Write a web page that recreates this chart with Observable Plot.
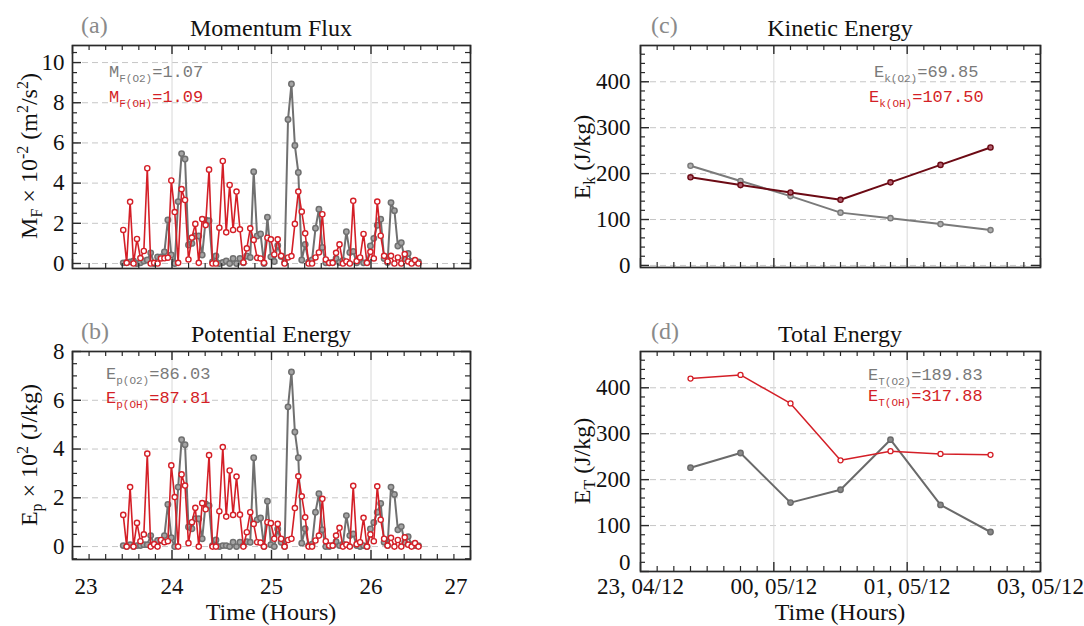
<!DOCTYPE html>
<html>
<head>
<meta charset="utf-8">
<script src="https://cdn.jsdelivr.net/npm/d3@7"></script>
<script src="https://cdn.jsdelivr.net/npm/@observablehq/plot@0.6"></script>
<style>
html, body { margin: 0; padding: 0; background: #ffffff; }
#chart { position: relative; width: 1084px; height: 626px; overflow: hidden; background: #fff; }
#chart > svg { position: absolute; left: 0; top: 0; }
</style>
</head>
<body>
<div id="chart"></div>
<script>
// ---------------- data ----------------
const sampleCount = 87;
const sampleStartHour = 23.51;   // first sample (hours)
const sampleStepHour = 0.0345;   // sampling cadence (hours)

const momentumFluxO2 = [0.03,0.05,0.08,0.12,0.0,0.03,0.12,0.17,0.53,0.0,0.33,0.33,0.58,2.17,0.42,0.0,3.08,5.47,5.2,0.92,1.0,1.37,1.37,0.42,2.17,2.13,0.08,0.37,0.0,0.05,0.12,0.0,0.25,0.0,0.25,0.03,0.37,0.3,4.57,1.37,1.47,0.0,2.3,0.33,0.1,0.9,0.35,0.05,7.17,8.93,5.87,4.53,0.17,0.95,0.08,0.17,1.75,2.7,0.8,0.03,0.03,0.05,0.25,0.05,0.15,1.58,0.55,0.6,0.03,0.2,0.03,0.05,0.87,1.25,1.9,2.2,0.25,0.05,3.03,2.63,0.87,1.03,0.25,0.5,0.1,0.08,0.08];
const momentumFluxOH = [1.67,0.03,3.07,0.0,1.22,0.27,0.62,4.74,0.0,0.03,0.0,0.25,0.26,0.29,4.13,2.56,0.03,3.7,3.16,0.2,1.29,1.97,0.03,2.21,1.91,4.67,0.0,0.0,1.78,5.1,1.55,3.91,1.67,3.58,1.7,0.05,0.75,1.75,1.17,0.28,0.25,0.03,1.28,1.2,0.45,1.2,0.38,0.0,0.3,0.37,1.97,3.58,2.58,1.5,0.0,0.0,0.3,0.55,2.45,0.2,0.03,0.03,0.53,0.95,0.0,0.1,0.0,3.12,0.12,0.3,1.47,0.03,0.58,0.25,3.08,1.38,0.38,0.1,0.38,0.0,0.3,0.0,0.47,0.1,0.0,0.17,0.0];
const potentialEnergyO2 = [0.04,0.0,0.08,0.0,0.04,0.04,0.08,0.08,0.45,0.1,0.25,0.25,0.45,1.73,0.36,0.0,2.44,4.38,4.18,0.8,0.73,1.14,1.14,0.32,1.75,1.68,0.04,0.27,0.0,0.04,0.04,0.0,0.18,0.0,0.18,0.04,0.2,0.18,3.64,1.1,1.17,0.0,1.86,0.08,0.0,0.72,0.18,0.0,5.73,7.16,4.7,3.64,0.14,0.73,0.05,0.1,1.41,2.17,0.69,0.0,0.0,0.04,0.2,0.04,0.1,1.27,0.45,0.52,0.04,0.0,0.04,0.0,0.72,0.99,1.41,1.77,0.18,0.04,2.44,2.14,0.69,0.82,0.18,0.41,0.08,0.04,0.04];
const potentialEnergyOH = [1.3,0.0,2.44,0.0,0.97,0.22,0.5,3.81,0.0,0.1,0.0,0.27,0.18,0.22,3.33,2.03,0.0,2.96,2.5,0.14,1.0,1.59,0.0,1.78,1.53,3.75,0.0,0.0,1.45,4.08,1.23,3.12,1.3,2.87,1.31,0.0,0.59,1.41,0.93,0.18,0.16,0.0,1.0,0.96,0.32,0.93,0.32,0.0,0.27,0.32,1.58,2.88,2.06,1.2,0.0,0.0,0.25,0.45,1.96,0.22,0.04,0.04,0.45,0.77,0.0,0.08,0.0,2.49,0.1,0.18,1.18,0.0,0.5,0.22,2.47,1.1,0.32,0.04,0.36,0.0,0.27,0.0,0.38,0.08,0.0,0.14,0.0];

const energySlot = [3, 6, 9, 12, 15, 18, 21];
const kineticO2 = [217, 184, 151, 115, 103, 90, 77];
const kineticOH = [192, 175, 159, 143, 181, 219, 257];
const totalO2 = [226, 258, 150, 178, 287, 145, 86];
const totalOH = [420, 428, 366, 242, 262, 256, 254];

const hourTicks = [23, 24, 25, 26, 27];
const energyTickSlots = [0, 8, 16, 24];
const energyTickLabels = ["23, 04/12", "00, 05/12", "01, 05/12", "03, 05/12"];
const fluxTicks = [0, 2, 4, 6, 8, 10];
const potentialTicks = [0, 2, 4, 6, 8];
const energyTicks = [0, 100, 200, 300, 400];

// ---------------- styles ----------------
const W = 1084, H = 626;
const ink = "#2a2a2a";
const grayC = "#707070";
const redC = "#d41f27";
const maroonC = "#6c0a14";
const serif = "Liberation Serif";
const mono = "Liberation Mono";

const hours = d3.range(sampleCount).map(i => sampleStartHour + i * sampleStepHour);
const hourRows = ys => ys.map((v, i) => ({x: hours[i], y: v}));
const slotRows = ys => ys.map((v, i) => ({x: energySlot[i], y: v}));

function minorRange(lo, hi, step, majors) {
  const out = [];
  for (let v = Math.ceil(lo / step - 1e-9) * step; v <= hi + 1e-9; v += step) {
    if (!majors.some(m => Math.abs(m - v) < 1e-6)) out.push(v);
  }
  return out;
}

function panel(o) {
  const fw = o.right - o.left, fh = o.bottom - o.top;
  const L = 9, S = 5;
  const xMinor = minorRange(o.xDomain[0], o.xDomain[1], o.xMinorStep, o.xMajor);
  const yMinor = minorRange(o.yDomain[0], o.yDomain[1], o.yMinorStep, o.yMajor);
  const id = d => d;
  const tickText = {fontSize: 23, fontFamily: serif, fill: "#111"};
  const marks = [
    Plot.ruleY(o.yMajor, {y: id, stroke: "#c6c6c6", strokeWidth: 1, strokeDasharray: "6,4"}),
    Plot.ruleX(o.xGrid, {x: id, stroke: "#d8d8d8", strokeWidth: 1}),
    ...o.dataMarks,
    Plot.tickX(o.xMajor, {x: id, insetTop: fh - L, stroke: ink, strokeWidth: 1.4}),
    Plot.tickX(o.xMajor, {x: id, insetBottom: fh - L, stroke: ink, strokeWidth: 1.4}),
    Plot.tickX(xMinor, {x: id, insetTop: fh - S, stroke: ink, strokeWidth: 1.2}),
    Plot.tickX(xMinor, {x: id, insetBottom: fh - S, stroke: ink, strokeWidth: 1.2}),
    Plot.tickY(o.yMajor, {y: id, insetRight: fw - L, stroke: ink, strokeWidth: 1.4}),
    Plot.tickY(o.yMajor, {y: id, insetLeft: fw - L, stroke: ink, strokeWidth: 1.4}),
    Plot.tickY(yMinor, {y: id, insetRight: fw - S, stroke: ink, strokeWidth: 1.2}),
    Plot.tickY(yMinor, {y: id, insetLeft: fw - S, stroke: ink, strokeWidth: 1.2}),
    Plot.frame({stroke: ink, strokeWidth: 1.7}),
    Plot.text(o.yLabelTicks, {y: id, text: d => String(d), frameAnchor: "left", dx: o.yLabelDx, textAnchor: "end", ...tickText}),
    ...(o.extraMarks || [])
  ];
  if (o.xLabels) {
    const idx = o.xMajor.map((d, i) => i);
    if (o.insetEdgeLabels) {
      const last = o.xMajor.length - 1;
      marks.push(Plot.text(idx.filter(i => i > 0 && i < last), {x: i => o.xMajor[i], text: i => o.xLabels[i], frameAnchor: "bottom", dy: o.xLabelDy, ...tickText}));
      marks.push(Plot.text([0], {x: i => o.xMajor[i], text: i => o.xLabels[i], frameAnchor: "bottom", dy: o.xLabelDy, dx: 2, textAnchor: "start", ...tickText}));
      marks.push(Plot.text([last], {x: i => o.xMajor[i], text: i => o.xLabels[i], frameAnchor: "bottom", dy: o.xLabelDy, dx: -3, textAnchor: "end", ...tickText}));
    } else {
      marks.push(Plot.text(idx, {x: i => o.xMajor[i], text: i => o.xLabels[i], frameAnchor: "bottom", dy: o.xLabelDy, ...tickText}));
    }
  }
  return Plot.plot({
    width: W, height: H,
    marginLeft: o.left, marginRight: W - o.right, marginTop: o.top, marginBottom: H - o.bottom,
    x: {domain: o.xDomain, axis: null},
    y: {domain: o.yDomain, axis: null},
    style: {background: "transparent", overflow: "visible", fontFamily: serif},
    marks
  });
}

function seriesMarks(rows, color, width, dotFill, r, dotWidth) {
  return [
    Plot.line(rows, {x: "x", y: "y", stroke: color, strokeWidth: width}),
    Plot.dot(rows, {x: "x", y: "y", r: r, stroke: color, strokeWidth: dotWidth, fill: dotFill})
  ];
}

const chart = document.getElementById("chart");
const hourMinor = 1 / 6;

// (a) Momentum flux
chart.append(panel({
  left: 72, right: 470, top: 45, bottom: 268,
  xDomain: [23, 27], yDomain: [-0.25, 10.85],
  xMajor: hourTicks, xMinorStep: hourMinor, xGrid: [24, 25, 26],
  yMajor: fluxTicks, yMinorStep: 0.5, yLabelTicks: fluxTicks, yLabelDx: -8,
  dataMarks: [
    ...seriesMarks(hourRows(momentumFluxO2), grayC, 2, "#a4a4a4", 2.7, 1.5),
    ...seriesMarks(hourRows(momentumFluxOH), redC, 1.6, "white", 2.6, 1.4)
  ]
}));

// (b) Potential energy
chart.append(panel({
  left: 72, right: 470, top: 351, bottom: 559,
  xDomain: [23, 27], yDomain: [-0.53, 8.0],
  xMajor: hourTicks, xMinorStep: hourMinor, xGrid: [24, 25, 26],
  yMajor: potentialTicks, yMinorStep: 0.5, yLabelTicks: potentialTicks, yLabelDx: -8,
  xLabels: hourTicks.map(String), xLabelDy: 34, insetEdgeLabels: true,
  dataMarks: [
    ...seriesMarks(hourRows(potentialEnergyO2), grayC, 2, "#a4a4a4", 2.7, 1.5),
    ...seriesMarks(hourRows(potentialEnergyOH), redC, 1.6, "white", 2.6, 1.4)
  ]
}));

// (c) Kinetic energy
chart.append(panel({
  left: 640, right: 1040, top: 45, bottom: 267,
  xDomain: [0, 24], yDomain: [-4.5, 479],
  xMajor: energyTickSlots, xMinorStep: 1, xGrid: [8, 16],
  yMajor: energyTicks, yMinorStep: 20, yLabelTicks: energyTicks, yLabelDx: -10,
  dataMarks: [
    ...seriesMarks(slotRows(kineticO2), "#7a7a7a", 2, "#b0b0b0", 2.6, 1.4),
    ...seriesMarks(slotRows(kineticOH), maroonC, 2, "#b06070", 2.6, 1.4)
  ]
}));

// (d) Total energy
chart.append(panel({
  left: 640, right: 1040, top: 351, bottom: 571,
  xDomain: [0, 24], yDomain: [0, 479],
  xMajor: energyTickSlots, xMinorStep: 1, xGrid: [8, 16],
  yMajor: energyTicks, yMinorStep: 20, yLabelTicks: energyTicks.filter(v => v > 0), yLabelDx: -10,
  xLabels: energyTickLabels, xLabelDy: 22,
  dataMarks: [
    ...seriesMarks(slotRows(totalO2), "#6a6a6a", 2, "#8a8a8a", 2.7, 1.4),
    ...seriesMarks(slotRows(totalOH), redC, 1.5, "white", 2.5, 1.3)
  ],
  extraMarks: [
    Plot.text([0], {y: d => d, text: d => String(d), frameAnchor: "left", dx: -10, dy: -9, textAnchor: "end", fontSize: 23, fontFamily: serif, fill: "#111"})
  ]
}));

// ---------------- text overlay ----------------
const over = d3.select("#chart").append("svg")
  .attr("width", W).attr("height", H)
  .style("position", "absolute").style("left", 0).style("top", 0);

function rich(parts, o) {
  const t = over.append("text")
    .attr("font-family", o.family).attr("font-size", o.size)
    .attr("fill", o.fill).attr("text-anchor", o.anchor || "start");
  if (o.rotate) t.attr("transform", `translate(${o.x},${o.y}) rotate(-90)`);
  else t.attr("x", o.x).attr("y", o.y);
  let shift = 0;
  parts.forEach(p => {
    const target = p.sub ? o.subShift : p.sup ? -o.supShift : 0;
    const s = t.append("tspan").attr("dy", target - shift).text(p.t);
    if (p.sub || p.sup) s.attr("font-size", o.small);
    shift = target;
  });
}

const titleStyle = {family: serif, size: 24, fill: "#111", anchor: "middle"};
rich([{t: "Momentum Flux"}], {...titleStyle, x: 271, y: 36});
rich([{t: "Potential Energy"}], {...titleStyle, x: 271, y: 342});
rich([{t: "Kinetic Energy"}], {...titleStyle, x: 840, y: 36});
rich([{t: "Total Energy"}], {...titleStyle, x: 840, y: 342});

const letterStyle = {family: serif, size: 24, fill: "#8a8a8a"};
rich([{t: "(a)"}], {...letterStyle, x: 81, y: 33});
rich([{t: "(b)"}], {...letterStyle, x: 81, y: 339});
rich([{t: "(c)"}], {...letterStyle, x: 651, y: 33});
rich([{t: "(d)"}], {...letterStyle, x: 651, y: 339});

const axisStyle = {family: serif, size: 24, fill: "#111", anchor: "middle", small: 16, subShift: 5, supShift: 9};
rich([{t: "Time (Hours)"}], {...axisStyle, x: 271, y: 620});
rich([{t: "Time (Hours)"}], {...axisStyle, x: 840, y: 620});
rich([{t: "M"}, {t: "F", sub: true}, {t: " × 10"}, {t: "-2", sup: true}, {t: " (m"}, {t: "2", sup: true}, {t: "/s"}, {t: "2", sup: true}, {t: ")"}],
  {...axisStyle, x: 37, y: 156, rotate: true});
rich([{t: "E"}, {t: "p", sub: true}, {t: " × 10"}, {t: "2", sup: true}, {t: " (J/kg)"}],
  {...axisStyle, x: 37, y: 455, rotate: true});
rich([{t: "E"}, {t: "k", sub: true}, {t: " (J/kg)"}], {...axisStyle, x: 590, y: 157, rotate: true});
rich([{t: "E"}, {t: "T", sub: true}, {t: " (J/kg)"}], {...axisStyle, x: 590, y: 461, rotate: true});

const annGray = {family: mono, size: 17, small: 11, subShift: 5, supShift: 0, fill: "#7a7a7a"};
const annRed = {...annGray, fill: redC};
rich([{t: "M"}, {t: "F(O2)", sub: true}, {t: "=1.07"}], {...annGray, x: 109, y: 77});
rich([{t: "M"}, {t: "F(OH)", sub: true}, {t: "=1.09"}], {...annRed, x: 109, y: 102});
rich([{t: "E"}, {t: "p(O2)", sub: true}, {t: "=86.03"}], {...annGray, x: 106, y: 379});
rich([{t: "E"}, {t: "p(OH)", sub: true}, {t: "=87.81"}], {...annRed, x: 106, y: 403});
rich([{t: "E"}, {t: "k(O2)", sub: true}, {t: "=69.85"}], {...annGray, x: 874, y: 77});
rich([{t: "E"}, {t: "k(OH)", sub: true}, {t: "=107.50"}], {...annRed, x: 869, y: 102});
rich([{t: "E"}, {t: "T(O2)", sub: true}, {t: "=189.83"}], {...annGray, x: 868, y: 380});
rich([{t: "E"}, {t: "T(OH)", sub: true}, {t: "=317.88"}], {...annRed, x: 868, y: 401});
</script>
</body>
</html>
